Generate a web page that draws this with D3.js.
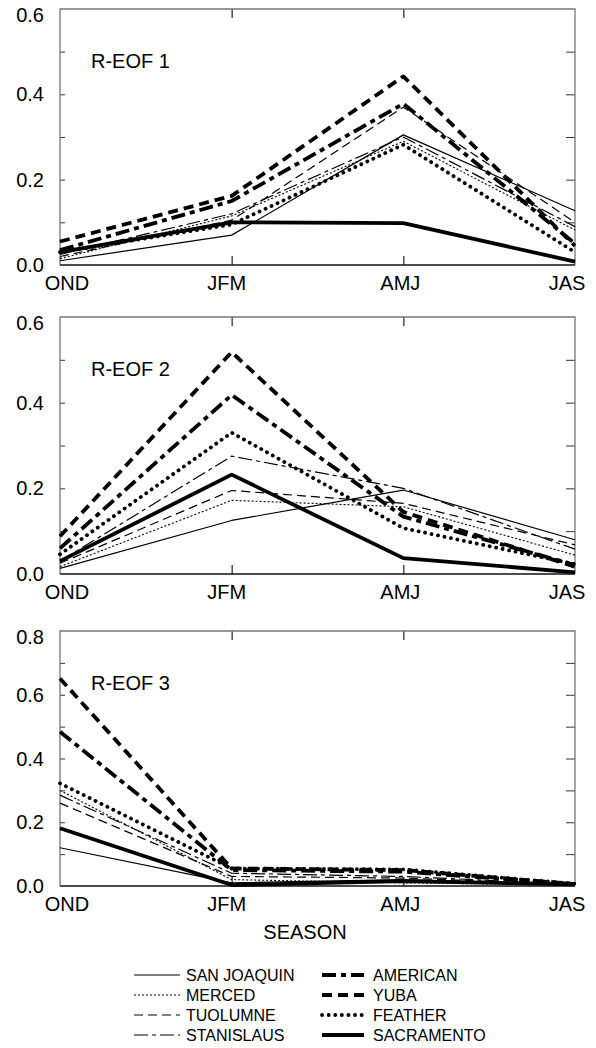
<!DOCTYPE html>
<html>
<head>
<meta charset="utf-8">
<script src="https://cdn.jsdelivr.net/npm/d3@7"></script>
<style>
  body { margin: 0; background: #fff; }
  svg { display: block; font-family: "Liberation Sans", Arial, Helvetica, sans-serif; }
</style>
</head>
<body>
<div id="chart"></div>
<script>
const seasons = ["OND", "JFM", "AMJ", "JAS"];
const rivers = ["SAN JOAQUIN", "MERCED", "TUOLUMNE", "STANISLAUS", "AMERICAN", "YUBA", "FEATHER", "SACRAMENTO"];

// loadings per river, one value per season
const eof1 = [
  [0.010, 0.070, 0.305, 0.127],
  [0.015, 0.115, 0.290, 0.082],
  [0.020, 0.105, 0.370, 0.100],
  [0.025, 0.120, 0.300, 0.090],
  [0.035, 0.150, 0.378, 0.050],
  [0.055, 0.162, 0.442, 0.045],
  [0.030, 0.095, 0.282, 0.030],
  [0.030, 0.100, 0.098, 0.008],
];
const eof2 = [
  [0.013, 0.125, 0.196, 0.080],
  [0.017, 0.172, 0.157, 0.044],
  [0.025, 0.195, 0.165, 0.068],
  [0.030, 0.275, 0.200, 0.058],
  [0.060, 0.418, 0.134, 0.021],
  [0.088, 0.518, 0.145, 0.017],
  [0.046, 0.330, 0.107, 0.023],
  [0.030, 0.232, 0.037, 0.004],
];
const eof3 = [
  [0.120, 0.010, 0.020, 0.004],
  [0.300, 0.020, 0.010, 0.003],
  [0.260, 0.030, 0.025, 0.004],
  [0.285, 0.040, 0.030, 0.005],
  [0.484, 0.050, 0.045, 0.006],
  [0.651, 0.055, 0.050, 0.006],
  [0.322, 0.055, 0.052, 0.007],
  [0.181, 0.003, 0.015, 0.005],
];

const panelTitles = ["R-EOF 1", "R-EOF 2", "R-EOF 3"];
const panelMax = [0.6, 0.6, 0.8];
const yTicks = [[0, 0.2, 0.4, 0.6], [0, 0.2, 0.4, 0.6], [0, 0.2, 0.4, 0.6, 0.8]];

// line style per river
const styles = [
  { w: 1.2, dash: null },
  { w: 1.1, dash: "2,2" },
  { w: 1.2, dash: "9,5" },
  { w: 1.2, dash: "14,4,4,4" },
  { w: 3.8, dash: "14,5,5,5" },
  { w: 3.8, dash: "10,6" },
  { w: 3.8, dash: "0.1,6.5", cap: "round" },
  { w: 3.8, dash: null },
];

const width = 596;
const height = 1048;
const left = 60;
const right = 575;
const panels = [
  { top: 9, bottom: 265, data: eof1 },
  { top: 317, bottom: 574, data: eof2 },
  { top: 631, bottom: 886, data: eof3 },
];
const xLabelShift = [7, -5, -3, -8];

const svg = d3
  .select("#chart")
  .append("svg")
  .attr("width", width)
  .attr("height", height);

const xScale = d3.scalePoint().domain(seasons).range([left, right]);

panels.forEach((p, i) => {
  const yScale = d3.scaleLinear().domain([0, panelMax[i]]).range([p.bottom, p.top]);
  const g = svg.append("g");

  // minor ticks every 0.1 on left (short) and right (longer)
  const minor = d3.range(1, Math.round(panelMax[i] * 10)).map((d) => d / 10);
  g.append("g")
    .attr("transform", `translate(${left},0)`)
    .call(d3.axisRight(yScale).tickValues(minor).tickSize(5).tickFormat(""))
    .call((a) => a.select(".domain").remove())
    .selectAll("line").attr("stroke", "#333");
  g.append("g")
    .attr("transform", `translate(${right},0)`)
    .call(d3.axisLeft(yScale).tickValues(minor).tickSize(9).tickFormat(""))
    .call((a) => a.select(".domain").remove())
    .selectAll("line").attr("stroke", "#333");

  // x ticks inside, top and bottom
  const inner = seasons.slice(1, 3);
  g.append("g")
    .attr("transform", `translate(0,${p.top})`)
    .call(d3.axisBottom(xScale).tickValues(inner).tickSize(9).tickFormat(""))
    .call((a) => a.select(".domain").remove())
    .selectAll("line").attr("stroke", "#333").attr("stroke-width", 1.3);
  g.append("g")
    .attr("transform", `translate(0,${p.bottom})`)
    .call(d3.axisTop(xScale).tickValues(inner).tickSize(9).tickFormat(""))
    .call((a) => a.select(".domain").remove())
    .selectAll("line").attr("stroke", "#333").attr("stroke-width", 1.3);

  // frame
  g.append("path")
    .attr("d", `M${left},${p.bottom}V${p.top}H${right}V${p.bottom}`)
    .attr("fill", "none")
    .attr("stroke", "#777")
    .attr("stroke-width", 1.3);
  g.append("line")
    .attr("x1", left).attr("x2", right)
    .attr("y1", p.bottom).attr("y2", p.bottom)
    .attr("stroke", "#111")
    .attr("stroke-width", 1.3);

  // y labels
  g.selectAll(".ylab")
    .data(yTicks[i])
    .join("text")
    .attr("x", 44)
    .attr("y", (d) => Math.max(yScale(d), p.top + 6))
    .attr("dy", "0.35em")
    .attr("text-anchor", "end")
    .attr("font-size", 20)
    .text((d) => d.toFixed(1));

  // x labels
  g.selectAll(".xlab")
    .data(seasons)
    .join("text")
    .attr("x", (d, j) => xScale(d) + xLabelShift[j])
    .attr("y", p.bottom + 25)
    .attr("text-anchor", "middle")
    .attr("font-size", 20)
    .text((d) => d);

  g.append("text")
    .attr("x", 91)
    .attr("y", p.top + 59)
    .attr("font-size", 20)
    .text(panelTitles[i]);

  const line = d3
    .line()
    .x((d, j) => xScale(seasons[j]))
    .y((d) => yScale(d));

  g.append("g")
    .selectAll("path")
    .data(p.data)
    .join("path")
    .attr("d", (d) => line(d))
    .attr("fill", "none")
    .attr("stroke", "#000")
    .attr("stroke-width", (d, k) => styles[k].w)
    .attr("stroke-dasharray", (d, k) => styles[k].dash)
    .attr("stroke-linecap", (d, k) => styles[k].cap || "butt")
    .attr("stroke-linejoin", "round");
});

svg.append("text")
  .attr("x", 305)
  .attr("y", 939)
  .attr("text-anchor", "middle")
  .attr("font-size", 20)
  .text("SEASON");

// legend, two columns of four
const legend = svg.append("g");
rivers.forEach((name, k) => {
  const col = Math.floor(k / 4);
  const row = k % 4;
  const x0 = col === 0 ? 134 : 322;
  const y0 = 975 + row * 20;
  legend.append("line")
    .attr("x1", x0).attr("x2", x0 + (col === 0 ? 46 : 42))
    .attr("y1", y0).attr("y2", y0)
    .attr("stroke", "#000")
    .attr("stroke-width", styles[k].w)
    .attr("stroke-dasharray", styles[k].dash)
    .attr("stroke-linecap", styles[k].cap || "butt");
  legend.append("text")
    .attr("x", col === 0 ? 186 : 373)
    .attr("y", y0)
    .attr("dy", "0.36em")
    .attr("font-size", 16)
    .text(name);
});
</script>
</body>
</html>
